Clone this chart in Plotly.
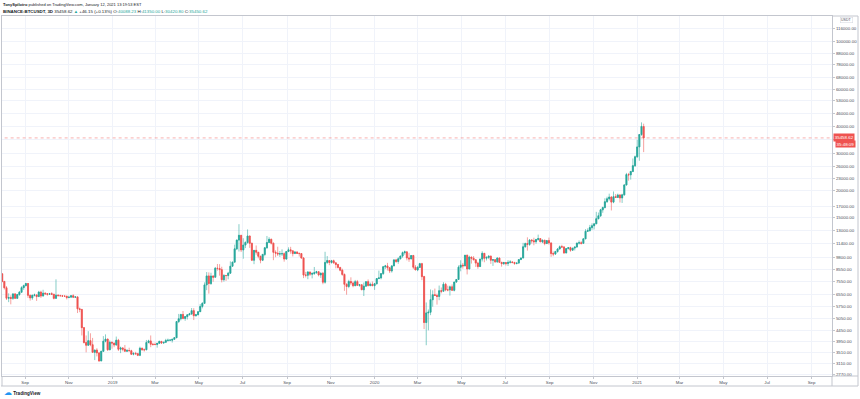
import math
import numpy as np
import pandas as pd
import plotly.graph_objects as go

# ---------------- data (BINANCE:BTCUSDT, 3D candles) ----------------
start_date = "2018-07-31"
candle_days = 3

open_ = [
    # 2018
    8180, 7530, 7030, 6280, 6320, 6270, 6580, 6270, 6530, 6700,
    7040, 7190, 7360, 6480, 6300, 6480, 6510, 6390, 6710, 6430,
    6630, 6590, 6550, 6590, 6560, 6270, 6490, 6450, 6450, 6420,
    6420, 6320, 6350, 6450, 6350, 6370, 5600, 5560, 4570, 3890,
    3780, 3970, 3800, 3500, 3590, 3480, 3190, 3540, 3950, 4040,
    3600, 3900,
    # 2019
    3870, 3790, 3990, 3620, 3670, 3620, 3540, 3570, 3560, 3430,
    3460, 3450, 3390, 3660, 3600, 3600, 3890, 3960, 3820, 3810,
    3810, 3860, 3940, 3870, 3900, 3980, 3990, 3990, 4030, 4100,
    4880, 5030, 5270, 5050, 5150, 5250, 5300, 5490, 5200, 5250,
    5430, 5750, 5940, 7250, 7990, 7360, 7980, 7880, 8680, 8660,
    8550, 7670, 8030, 8020, 8230, 8870, 9270, 10700, 11760, 12390,
    10580, 11150, 11470, 12300, 11360, 9470, 10530, 10320, 9880, 9470,
    10080, 10820, 11460, 11860, 11380, 10310, 10220, 10130, 10140, 10160,
    9590, 10390, 10590, 10480, 10170, 10350, 10180, 10170, 9690, 8060,
    8050, 8340, 8140, 8200, 8270, 8360, 8080, 8220, 7470, 9240,
    9430, 9240, 9410, 9200, 9050, 8760, 8500, 8120, 7300, 7130,
    7520, 7400, 7190, 7510, 7220, 7260, 6880, 7150, 7510, 7200,
    7300,
    # 2020
    7190, 7340, 7760, 7820, 8190, 8820, 8900, 8720, 8430, 8900,
    9500, 9340, 9610, 9900, 10270, 10360, 9700, 9600, 9960, 8780,
    8520, 8760, 9120, 7930, 4830, 5360, 5400, 6180, 6520, 6470,
    6400, 6810, 6770, 7300, 6870, 6870, 7100, 6840, 7480, 7690,
    8780, 8980, 8900, 9990, 8610, 9790, 9670, 9510, 9180, 8840,
    9580, 10200, 9670, 9760, 9890, 9470, 9520, 9300, 9690, 9250,
    9120, 9230, 9130, 9250, 9290, 9240, 9140, 9180, 9530, 9700,
    10940, 11330, 11230, 11760, 11680, 11560, 11850, 11950, 11540, 11750,
    11330, 11700, 11410, 10170, 10120, 10390, 10680, 10940, 10930, 10240,
    10730, 10840, 10550, 10790, 10920, 11390, 11420, 11360, 11920, 12930,
    13030, 13460, 13740, 14020, 14820, 15290, 16310, 16720, 17800, 18370,
    18720, 17730, 18800, 18650, 19150, 18550, 19170, 21330, 23860, 23800,
    24700, 26280,
    # 2021
    28920, 32180, 36770, 40088.23,
]

high = [
    # 2018
    8190, 7550, 7160, 6620, 6480, 6620, 6630, 6580, 6790, 7150,
    7270, 7410, 7390, 6530, 6530, 6600, 6530, 6800, 6810, 6880,
    6690, 6630, 6650, 6700, 6570, 7700, 6550, 6520, 6470, 6460,
    6440, 6450, 6490, 6550, 6400, 6400, 5680, 5600, 4600, 4200,
    4400, 4300, 4090, 3600, 3660, 3500, 3560, 4170, 4250, 4060,
    3980, 3940,
    # 2019
    3880, 4150, 4050, 3720, 3700, 3790, 3630, 3680, 3600, 3500,
    3520, 3480, 3720, 3680, 3650, 4000, 4010, 4200, 3880, 3890,
    3870, 3970, 3940, 3920, 4050, 4060, 4040, 4040, 4120, 4900,
    5300, 5300, 5470, 5130, 5280, 5360, 5650, 5640, 5300, 5450,
    5900, 6020, 7450, 8330, 8300, 8270, 8050, 8800, 9090, 9070,
    8820, 8140, 8040, 8350, 9350, 9320, 11200, 11840, 13970, 12400,
    12000, 11600, 13200, 12340, 11450, 10550, 11100, 10330, 9940, 10130,
    10920, 12300, 12140, 11960, 11440, 10530, 10950, 10460, 10640, 10300,
    10440, 10880, 10940, 10480, 10440, 10390, 10300, 10180, 9800, 8350,
    8400, 8350, 8320, 8800, 8440, 8400, 8300, 8340, 10370, 9900,
    9440, 9500, 9530, 9230, 9080, 8800, 8640, 8200, 7380, 7660,
    7870, 7530, 7650, 7650, 7300, 7280, 7440, 7520, 7690, 7440,
    7520,
    # 2020
    7400, 7800, 8460, 8200, 8900, 9000, 9200, 8800, 8980, 9560,
    9600, 9770, 9950, 10400, 10500, 10380, 10250, 9990, 10030, 8980,
    8900, 9200, 9200, 8000, 6000, 5560, 6900, 6840, 6970, 6600,
    7200, 7050, 7470, 7420, 7190, 7200, 7290, 7500, 7700, 8950,
    9460, 9190, 10000, 10060, 9940, 9850, 9900, 9570, 9310, 9620,
    10430, 10230, 9860, 9980, 9950, 9550, 9590, 9780, 9750, 9300,
    9300, 9270, 9470, 9470, 9350, 9300, 9220, 9540, 9720, 11420,
    11450, 12120, 11900, 11900, 12070, 11900, 12480, 12020, 11830, 11790,
    11720, 12090, 11460, 10400, 10480, 10800, 11100, 11180, 10990, 10790,
    10850, 10950, 10800, 10930, 11440, 11720, 11630, 11990, 13240, 13350,
    13860, 14100, 14080, 15960, 15840, 16480, 16880, 18480, 18800, 19420,
    18920, 19890, 19340, 19420, 19300, 19400, 21560, 24300, 24300, 24800,
    28400, 29300,
    # 2021
    34800, 36940, 41950, 41350.00,
]

low = [
    # 2018
    7450, 6900, 6160, 6020, 5880, 6170, 6230, 6260, 6450, 6680,
    6870, 7140, 6300, 6120, 6170, 6400, 6100, 6370, 6300, 6400,
    6500, 6450, 6530, 6520, 6200, 6250, 6440, 6420, 6370, 6360,
    6200, 6300, 6350, 6300, 6310, 5350, 5400, 4200, 3850, 3500,
    3750, 3740, 3500, 3220, 3350, 3160, 3180, 3520, 3900, 3550,
    3580, 3640,
    # 2019
    3700, 3760, 3550, 3470, 3540, 3530, 3520, 3540, 3400, 3390,
    3400, 3360, 3360, 3560, 3530, 3580, 3860, 3700, 3760, 3780,
    3680, 3840, 3830, 3840, 3890, 3930, 3950, 3890, 4020, 4080,
    4800, 4940, 5000, 4920, 4990, 5220, 5240, 4960, 5150, 5230,
    5420, 5630, 5930, 6850, 6600, 7250, 7500, 7850, 8460, 8010,
    7450, 7510, 7570, 7700, 8170, 8860, 9260, 10560, 10400, 10340,
    9620, 10790, 11310, 10810, 9380, 9070, 10050, 9660, 9160, 9380,
    9880, 10720, 11440, 11220, 9470, 9780, 9900, 9810, 9900, 9320,
    9510, 10380, 10150, 9860, 10150, 10160, 9850, 9630, 7800, 7860,
    7710, 7990, 7780, 8070, 8180, 7950, 7820, 7300, 7350, 9100,
    8970, 9120, 9110, 8670, 8650, 8400, 8000, 6800, 6520, 7000,
    7230, 7070, 7150, 7170, 7110, 6860, 6430, 7130, 7130, 7140,
    7150,
    # 2020
    6870, 7280, 7730, 7700, 8080, 8600, 8470, 8240, 8280, 8880,
    9200, 9110, 9550, 9720, 10050, 9450, 9300, 9570, 8600, 8520,
    8410, 8700, 7630, 4500, 3780, 4440, 5230, 5730, 6460, 5860,
    6150, 6620, 6770, 6770, 6770, 6460, 6790, 6760, 7420, 7660,
    8400, 8640, 8880, 8120, 8580, 9130, 9450, 8800, 8630, 8820,
    9340, 9260, 9440, 9580, 9100, 8900, 9200, 9200, 9180, 8830,
    9000, 8940, 8890, 9130, 9150, 9000, 9050, 9120, 9500, 9640,
    10850, 10500, 11060, 11330, 11120, 11300, 11690, 11520, 11380, 11120,
    11280, 11200, 9820, 9880, 10020, 10270, 10640, 10800, 10140, 10200,
    10640, 10370, 10500, 10520, 10830, 11210, 11210, 11340, 11890, 12880,
    12900, 13130, 13200, 14000, 14720, 15100, 15800, 16560, 17600, 18020,
    16200, 17520, 18650, 18560, 17650, 17570, 19000, 21220, 22350, 22600,
    24500, 25900,
    # 2021
    28600, 27700, 36300, 30420.80,
]

close = [
    # 2018
    7530, 7030, 6280, 6320, 6270, 6580, 6270, 6530, 6700, 7040,
    7190, 7360, 6480, 6300, 6480, 6510, 6390, 6710, 6430, 6630,
    6590, 6550, 6590, 6560, 6270, 6490, 6450, 6450, 6420, 6420,
    6320, 6350, 6450, 6350, 6370, 5600, 5560, 4570, 3890, 3780,
    3970, 3800, 3500, 3590, 3480, 3190, 3540, 3950, 4040, 3600,
    3900, 3870,
    # 2019
    3790, 3990, 3620, 3670, 3620, 3540, 3570, 3560, 3430, 3460,
    3450, 3390, 3660, 3600, 3600, 3890, 3960, 3820, 3810, 3810,
    3860, 3940, 3870, 3900, 3980, 3990, 3990, 4030, 4100, 4880,
    5030, 5270, 5050, 5150, 5250, 5300, 5490, 5200, 5250, 5430,
    5750, 5940, 7250, 7990, 7360, 7980, 7880, 8680, 8660, 8550,
    7670, 8030, 8020, 8230, 8870, 9270, 10700, 11760, 12390, 10580,
    11150, 11470, 12300, 11360, 9470, 10530, 10320, 9880, 9470, 10080,
    10820, 11460, 11860, 11380, 10310, 10220, 10130, 10140, 10160, 9590,
    10390, 10590, 10480, 10170, 10350, 10180, 10170, 9690, 8060, 8050,
    8340, 8140, 8200, 8270, 8360, 8080, 8220, 7470, 9240, 9430,
    9240, 9410, 9200, 9050, 8760, 8500, 8120, 7300, 7130, 7520,
    7400, 7190, 7510, 7220, 7260, 6880, 7150, 7510, 7200, 7300,
    7190,
    # 2020
    7340, 7760, 7820, 8190, 8820, 8900, 8720, 8430, 8900, 9500,
    9340, 9610, 9900, 10270, 10360, 9700, 9600, 9960, 8780, 8520,
    8760, 9120, 7930, 4830, 5360, 5400, 6180, 6520, 6470, 6400,
    6810, 6770, 7300, 6870, 6870, 7100, 6840, 7480, 7690, 8780,
    8980, 8900, 9990, 8610, 9790, 9670, 9510, 9180, 8840, 9580,
    10200, 9670, 9760, 9890, 9470, 9520, 9300, 9690, 9250, 9120,
    9230, 9130, 9250, 9290, 9240, 9140, 9180, 9530, 9700, 10940,
    11330, 11230, 11760, 11680, 11560, 11850, 11950, 11540, 11750, 11330,
    11700, 11410, 10170, 10120, 10390, 10680, 10940, 10930, 10240, 10730,
    10840, 10550, 10790, 10920, 11390, 11420, 11360, 11920, 12930, 13030,
    13460, 13740, 14020, 14820, 15290, 16310, 16720, 17800, 18370, 18720,
    17730, 18800, 18650, 19150, 18550, 19170, 21330, 23860, 23800, 24700,
    26280, 28920,
    # 2021
    32180, 36770, 40150, 35450.62,
]

last_price = 35458.62
last_price_text = "35458.62"
countdown_text = "35:48:09"

price_ticks = [2770, 3110, 3510, 3950, 4450, 5050, 5750, 6550, 7550, 8550,
               9800, 11400, 13000, 15000, 17000, 20000, 23000, 26000, 30000,
               35000, 40000, 46000, 53000, 60000, 68000, 78000, 88000,
               100000, 116000]
# the 35000 label sits under the last-price tag, so it is not printed
hidden_price_labels = [35000]

time_tick_dates = ["2018-09-01", "2018-11-01", "2019-01-01", "2019-03-01",
                   "2019-05-01", "2019-07-01", "2019-09-01", "2019-11-01",
                   "2020-01-01", "2020-03-01", "2020-05-01", "2020-07-01",
                   "2020-09-01", "2020-11-01", "2021-01-01", "2021-03-01",
                   "2021-05-01", "2021-07-01", "2021-09-01"]
time_tick_text = ["Sep", "Nov", "2019", "Mar", "May", "Jul", "Sep", "Nov",
                  "2020", "Mar", "May", "Jul", "Sep", "Nov", "2021", "Mar",
                  "May", "Jul", "Sep"]

# ---------------- build figure ----------------
dates = pd.date_range(start=start_date, periods=len(close), freq=f"{candle_days}D")
o = np.array(open_, dtype=float)
c = np.array(close, dtype=float)
body_hi = np.maximum(o, c)
body_lo = np.minimum(o, c)

UP = "#26a69a"
DOWN = "#ef5350"
UP_W = "rgba(38,166,154,0.55)"
DOWN_W = "rgba(239,83,80,0.55)"
FONT = "Liberation Sans"
GRID = "#f0f3fa"
BORDER = "#c3c6ce"
TXT = "#4c4f5a"

fig = go.Figure()
# wicks (lighter)
fig.add_trace(go.Candlestick(
    x=dates, open=open_, high=high, low=low, close=close,
    increasing=dict(line=dict(color=UP_W, width=1), fillcolor=UP_W),
    decreasing=dict(line=dict(color=DOWN_W, width=1), fillcolor=DOWN_W),
    whiskerwidth=0, hoverinfo="skip", showlegend=False,
))
# bodies (solid)
fig.add_trace(go.Candlestick(
    x=dates, open=open_, high=body_hi, low=body_lo, close=close,
    increasing=dict(line=dict(color=UP, width=0.5), fillcolor=UP),
    decreasing=dict(line=dict(color=DOWN, width=0.5), fillcolor=DOWN),
    whiskerwidth=0, showlegend=False,
))
# last price line
fig.add_trace(go.Scatter(
    x=[pd.Timestamp("2018-07-01"), pd.Timestamp("2021-12-31")],
    y=[last_price, last_price], mode="lines",
    line=dict(color="rgba(239,83,80,0.45)", width=1, dash="dot"),
    hoverinfo="skip", showlegend=False,
))

x_range = [pd.Timestamp("2018-07-30 18:00"), pd.Timestamp("2021-09-29 12:00")]
y_range = [math.log10(2711), math.log10(132300)]

fig.update_layout(
    width=860, height=399,
    margin=dict(l=2, r=28, t=16, b=23, pad=0),
    paper_bgcolor="white", plot_bgcolor="white",
    font=dict(family=FONT, size=4.4, color=TXT),
    xaxis=dict(
        type="date", range=x_range, rangeslider=dict(visible=False),
        tickmode="array", tickvals=time_tick_dates, ticktext=time_tick_text,
        showgrid=True, gridcolor=GRID, gridwidth=1,
        showline=True, linecolor=BORDER, linewidth=1, mirror=True,
        ticks="outside", ticklen=2, tickcolor=BORDER,
        tickfont=dict(family=FONT, size=4.4, color=TXT),
        zeroline=False, automargin=False,
    ),
    yaxis=dict(
        type="log", range=y_range, side="right",
        tickmode="array", tickvals=price_ticks,
        ticktext=["" if v in hidden_price_labels else f"{v:.2f}" for v in price_ticks],
        showgrid=True, gridcolor=GRID, gridwidth=1,
        showline=True, linecolor=BORDER, linewidth=1, mirror=True,
        ticks="outside", ticklen=2, tickcolor=BORDER,
        tickfont=dict(family=FONT, size=4.4, color=TXT),
        zeroline=False, automargin=False,
    ),
    hovermode=False,
)

px_to_px = lambda px: (px - 2) / 830.0
py_to_py = lambda py: (376 - py) / 360.0

# outer frame for price / time axes
fig.add_shape(type="line", xref="paper", yref="paper",
              x0=px_to_px(1), x1=px_to_px(858), y0=py_to_py(386), y1=py_to_py(386),
              line=dict(color=BORDER, width=1))
fig.add_shape(type="line", xref="paper", yref="paper",
              x0=px_to_px(858), x1=px_to_px(858), y0=py_to_py(386), y1=py_to_py(16),
              line=dict(color=BORDER, width=1))
fig.add_shape(type="line", xref="paper", yref="paper",
              x0=1, x1=px_to_px(858), y0=1, y1=1,
              line=dict(color=BORDER, width=1))
fig.add_shape(type="line", xref="paper", yref="paper",
              x0=1, x1=px_to_px(858), y0=0, y1=0,
              line=dict(color=BORDER, width=1))
fig.add_shape(type="line", xref="paper", yref="paper",
              x0=1, x1=1, y0=py_to_py(386), y1=0,
              line=dict(color=BORDER, width=1))
fig.add_shape(type="line", xref="paper", yref="paper",
              x0=0, x1=0, y0=py_to_py(386), y1=0,
              line=dict(color=BORDER, width=1))

# header
fig.add_annotation(
    xref="paper", yref="paper", x=px_to_px(1), y=py_to_py(4.5),
    xanchor="left", yanchor="middle", showarrow=False,
    text="<b>TonySpilotro</b> published on TradingView.com, January 12, 2021 13:19:53 EST",
    font=dict(family=FONT, size=4.0, color="#131722"),
)
g = "<span style='color:#26a69a'>"
fig.add_annotation(
    xref="paper", yref="paper", x=px_to_px(1), y=py_to_py(11.5),
    xanchor="left", yanchor="middle", showarrow=False,
    text=("<b>BINANCE:BTCUSDT, 3D</b> 35458.62 " + g + "▲</span> +46.15 (+0.13%) "
          "O:" + g + "40088.23</span> H:" + g + "41350.00</span> "
          "L:" + g + "30420.80</span> C:" + g + "35450.62</span>"),
    font=dict(family=FONT, size=4.4, color="#131722"),
)

# price axis currency label
fig.add_annotation(
    xref="paper", yref="paper", x=px_to_px(846), y=py_to_py(20),
    xanchor="center", yanchor="middle", showarrow=False,
    text="USDT", font=dict(family=FONT, size=3.6, color=TXT),
    bordercolor="#d1d4dc", borderwidth=0.5, borderpad=0.5, bgcolor="white",
)

# last price label + countdown
fig.add_annotation(
    xref="paper", yref="y", x=px_to_px(833), y=math.log10(last_price),
    xanchor="left", yanchor="middle", showarrow=False,
    text=last_price_text, font=dict(family=FONT, size=4.4, color="white"),
    bgcolor=DOWN, borderpad=0.8,
)
fig.add_annotation(
    xref="paper", yref="y", x=px_to_px(835), y=math.log10(last_price), yshift=-6.5,
    xanchor="left", yanchor="middle", showarrow=False,
    text=countdown_text, font=dict(family=FONT, size=4.4, color="white"),
    bgcolor=DOWN, borderpad=0.6,
)

# TradingView logo
fig.add_annotation(
    xref="paper", yref="paper", x=px_to_px(2), y=py_to_py(392.5),
    xanchor="left", yanchor="middle", showarrow=False,
    text="<span style='color:#2196f3;font-size:8px'>☁</span> <b>TradingView</b>",
    font=dict(family=FONT, size=4.6, color="#131722"),
)

fig.write_html("out.html",
               config={"displayModeBar": False},
               post_script="document.body.style.margin='0';document.body.style.overflow='hidden';")
